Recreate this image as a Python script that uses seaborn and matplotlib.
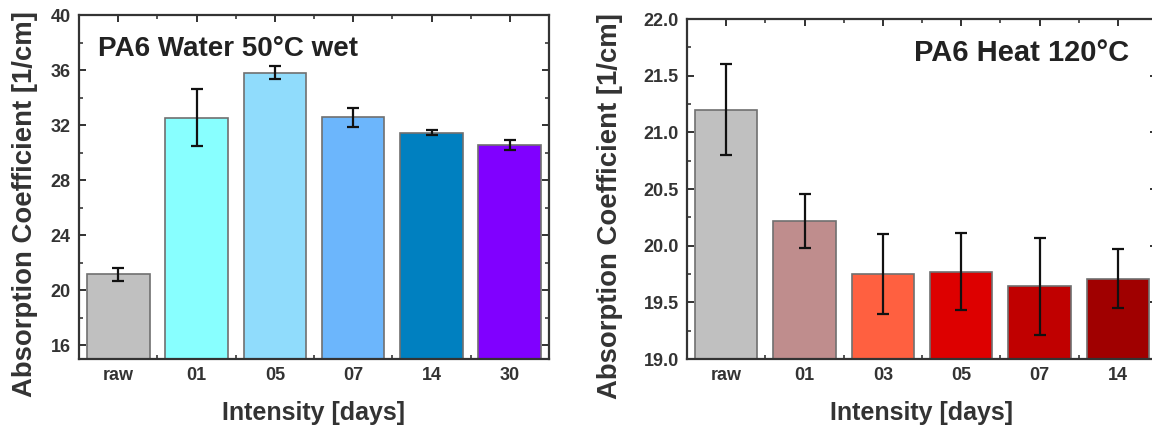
import matplotlib
matplotlib.use("Agg")
import matplotlib.pyplot as plt
from matplotlib.ticker import MultipleLocator, FixedLocator, FormatStrFormatter
import seaborn as sns
import pandas as pd
import numpy as np

# ---- data ----
water_days = ["raw", "01", "05", "07", "14", "30"]
water_vals = [21.15, 32.55, 35.82, 32.56, 31.46, 30.54]
water_errs = [0.45, 2.05, 0.50, 0.70, 0.20, 0.38]
water_colors = ["#c0c0c0", "#88ffff", "#90dcfc", "#6cb6fc", "#0080c0", "#8000ff"]

heat_days = ["raw", "01", "03", "05", "07", "14"]
heat_vals = [21.20, 20.22, 19.75, 19.77, 19.64, 19.71]
heat_errs = [0.40, 0.24, 0.35, 0.34, 0.43, 0.26]
heat_colors = ["#c0c0c0", "#bf8d8d", "#ff6040", "#dd0000", "#c00000", "#a00000"]

sns.set_theme(style="white")
plt.rcParams["font.family"] = ["Liberation Sans", "DejaVu Sans"]
plt.rcParams["font.weight"] = "bold"

fig = plt.figure(figsize=(11.52, 4.34), dpi=100)
ax1 = fig.add_axes([79/1152, 75/434, 470/1152, 344/434])
ax2 = fig.add_axes([687/1152, 75/434, 470/1152, 340/434])


def panel(ax, days, vals, errs, colors, ylim, major, minor, fmt, title, tx, ha,
          ylab_x, title_size):
    df = pd.DataFrame({"day": days, "val": vals})
    sns.barplot(data=df, x="day", y="val", hue="day", palette=colors,
                order=days, hue_order=days, errorbar=None, legend=False,
                saturation=1, width=0.8, edgecolor="#707070", linewidth=1.2,
                ax=ax)
    ax.errorbar(np.arange(len(days)), vals, yerr=errs, fmt="none",
                ecolor="#111111", elinewidth=1.6, capsize=4, capthick=1.6,
                zorder=5)
    ax.set_xlim(-0.5, len(days) - 0.5)
    ax.set_ylim(*ylim)
    ax.yaxis.set_major_locator(MultipleLocator(major))
    ax.yaxis.set_minor_locator(MultipleLocator(minor))
    ax.yaxis.set_major_formatter(FormatStrFormatter(fmt))
    ax.xaxis.set_minor_locator(FixedLocator(np.arange(len(days)) + 0.5))
    ax.tick_params(axis="both", which="major", direction="in", length=5,
                   width=1.3, top=True, right=True, bottom=True, left=True,
                   labelsize=13, colors="#222222", pad=6)
    ax.tick_params(axis="both", which="minor", direction="in", length=3,
                   width=1.1, top=True, right=True, bottom=True, left=True)
    for lab in ax.get_xticklabels() + ax.get_yticklabels():
        lab.set_fontweight("bold")
        lab.set_color("#333333")
    for s in ax.spines.values():
        s.set_visible(True)
        s.set_color("#333333")
        s.set_linewidth(1.6)
    ax.set_xlabel("Intensity [days]", fontsize=18, fontweight="bold",
                  color="#333333", labelpad=12)
    ax.set_ylabel("Absorption Coefficient [1/cm]", fontsize=19.8,
                  fontweight="bold", color="#333333")
    ax.yaxis.set_label_coords(ylab_x, 0.45)
    ax.text(tx, 0.90, title, transform=ax.transAxes, ha=ha, va="center",
            fontsize=title_size, fontweight="bold", color="#222222")


panel(ax1, water_days, water_vals, water_errs, water_colors, (15, 40), 4, 2,
      "%d", "PA6 Water 50°C wet", 0.04, "left", -0.088, 20)
panel(ax2, heat_days, heat_vals, heat_errs, heat_colors, (19, 22), 0.5, 0.25,
      "%.1f", "PA6 Heat 120°C", 0.94, "right", -0.137, 21)

fig.savefig("out.png", dpi=100)
